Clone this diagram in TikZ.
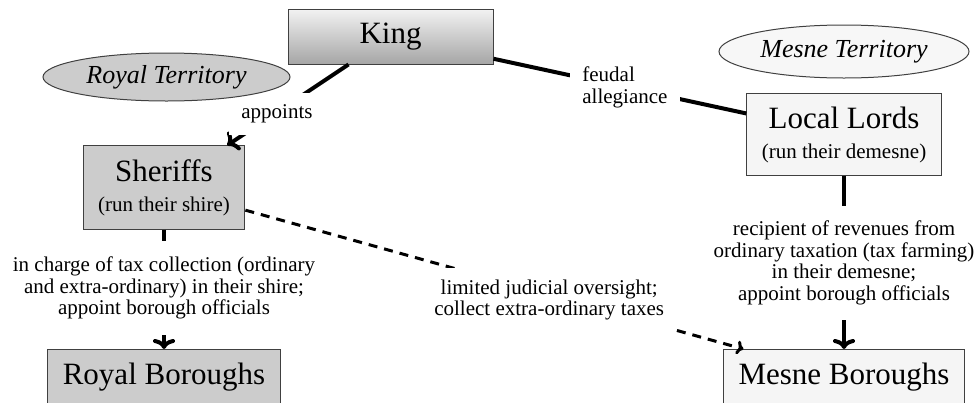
\documentclass[tikz,border=0pt]{standalone}
\usepackage{fontspec}
\setmainfont{Liberation Serif}
\usetikzlibrary{shapes.geometric,arrows.meta}

\newcommand{\bigsz}{\fontsize{31}{30}\selectfont}
\newcommand{\smallsz}{\fontsize{21}{21.5}\selectfont}

\begin{document}
\begin{tikzpicture}[x=1pt,y=-1pt,
    box/.style={draw=black!75,line width=1pt,align=center,inner xsep=15pt,inner ysep=13.5pt,font=\bigsz},
    royal/.style={box,fill=black!20},
    mesne/.style={box,fill=black!4},
    land/.style={ellipse,draw=black!75,line width=1pt,inner sep=0pt,font=\fontsize{26}{26}\selectfont\itshape},
    tag/.style={fill=white,inner sep=12pt,align=center,font=\smallsz},
    link/.style={line width=4pt},
    arr/.style={-{To[length=10pt,width=22pt]}},
    dlink/.style={line width=3pt,dash pattern=on 9pt off 7pt},
    darr/.style={-{To[length=7pt,width=14pt]}}]
  \useasboundingbox (0,0) rectangle (979,402);
  \node[box,top color=black!5,bottom color=black!35,minimum width=205pt,minimum height=55pt] (king) at (390.5,36.5) {King};
  \node[royal] (sheriffs) at (164,187.5) {Sheriffs\\{\smallsz (run their shire)}};
  \node[mesne] (lords) at (844,134.5) {Local Lords\\{\smallsz (run their demesne)}};
  \node[royal,anchor=north] (royalB) at (164,349) {Royal Boroughs};
  \node[mesne,anchor=north] (mesneB) at (844,349) {Mesne Boroughs};
  \begin{scope}[link]
    \draw[arr] (king) -- node[tag,pos=0.59,yshift=-2pt] {appoints} (sheriffs);
    \draw (king) -- node[tag,align=left,pos=0.52] {feudal\\allegiance} (lords);
    \draw[arr] (sheriffs) -- node[tag,inner ysep=16pt,pos=0.49] {in charge of tax collection (ordinary\\and extra-ordinary) in their shire;\\appoint borough officials} (royalB);
    \draw[arr] (lords) -- node[tag,inner ysep=15pt,pos=0.5] {recipient of revenues from\\ordinary taxation (tax farming)\\in their demesne;\\appoint borough officials} (mesneB);
  \end{scope}
  \draw[dlink,darr] (sheriffs) -- node[tag,pos=0.61,yshift=-5pt] {limited judicial oversight;\\collect extra-ordinary taxes} (mesneB);
  \node[land,fill=black!20,minimum width=247pt,minimum height=48pt] (royalland) at (166.5,77) {Royal Territory};
  \node[land,fill=black!3,minimum width=250pt,minimum height=53pt] (mesneland) at (844,51.5) {Mesne Territory};
\end{tikzpicture}
\end{document}
